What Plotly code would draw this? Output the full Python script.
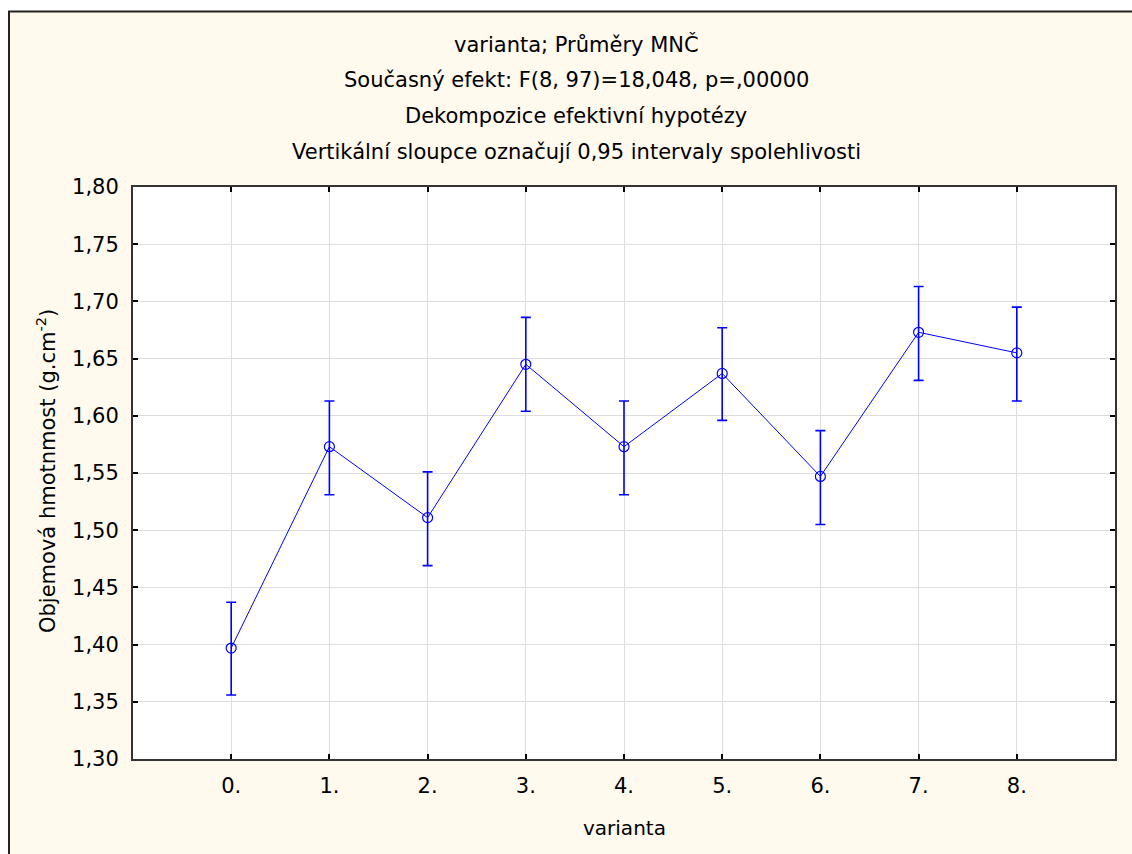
import plotly.graph_objects as go

categories = ["0.", "1.", "2.", "3.", "4.", "5.", "6.", "7.", "8."]
means = [1.397, 1.573, 1.511, 1.645, 1.573, 1.637, 1.547, 1.673, 1.655]
ci_upper = [1.437, 1.613, 1.551, 1.686, 1.613, 1.677, 1.587, 1.713, 1.695]
ci_lower = [1.356, 1.531, 1.469, 1.604, 1.531, 1.596, 1.505, 1.631, 1.613]
y_ticks = [1.30, 1.35, 1.40, 1.45, 1.50, 1.55, 1.60, 1.65, 1.70, 1.75, 1.80]
title_lines = [
    "varianta; Průměry MNČ",
    "Současný efekt: F(8, 97)=18,048, p=,00000",
    "Dekompozice efektivní hypotézy",
    "Vertikální sloupce označují 0,95 intervaly spolehlivosti",
]
x_title = "varianta"
y_title = "Objemová hmotnmost (g.cm<sup>-2</sup>)"

x_idx = list(range(len(categories)))
err_plus = [u - m for u, m in zip(ci_upper, means)]
err_minus = [m - l for m, l in zip(means, ci_lower)]

FONT = "DejaVu Sans, Verdana, sans-serif"
BLUE = "#0000FF"

fig = go.Figure()
fig.add_trace(go.Scatter(
    x=x_idx, y=means, mode="lines+markers",
    line=dict(color=BLUE, width=1),
    marker=dict(symbol="circle-open", size=10, color=BLUE, line=dict(width=1.2, color=BLUE)),
    error_y=dict(type="data", symmetric=False, array=err_plus, arrayminus=err_minus,
                 color=BLUE, thickness=1.6, width=5),
    showlegend=False,
))

W, H = 1132, 854
L, R, T, B = 133, 1115, 187, 759
pw, ph = R - L, B - T

def px(xp):
    return (xp - L) / pw

def py(yp):
    return (B - yp) / ph

annotations = []
for i, line in enumerate(title_lines):
    annotations.append(dict(text=line, x=px(576), y=py(44 + 36 * i),
                            xref="paper", yref="paper", showarrow=False,
                            xanchor="center", yanchor="middle",
                            font=dict(family=FONT, size=21, color="#000")))
annotations.append(dict(text=x_title, x=px(624), y=py(828), xref="paper", yref="paper",
                        showarrow=False, xanchor="center", yanchor="middle",
                        font=dict(family=FONT, size=20, color="#000")))
annotations.append(dict(text=y_title, x=px(46), y=py(471), xref="paper", yref="paper",
                        showarrow=False, xanchor="center", yanchor="middle", textangle=-90,
                        font=dict(family=FONT, size=21, color="#000")))

shapes = [
    dict(type="rect", xref="paper", yref="paper", x0=px(0), x1=px(1132), y0=py(11), y1=py(0),
         fillcolor="#FFFFFF", line=dict(width=0), layer="below"),
    dict(type="rect", xref="paper", yref="paper", x0=px(0), x1=px(8), y0=py(854), y1=py(0),
         fillcolor="#FFFFFF", line=dict(width=0), layer="below"),
    dict(type="line", xref="paper", yref="paper", x0=px(8), x1=px(1132), y0=py(11.5), y1=py(11.5),
         line=dict(color="#222", width=2)),
    dict(type="line", xref="paper", yref="paper", x0=px(9), x1=px(9), y0=py(11.5), y1=py(854),
         line=dict(color="#222", width=2)),
]

fig.update_layout(
    width=W, height=H,
    margin=dict(l=L, r=W - R, t=T, b=H - B),
    paper_bgcolor="#FFF9EE", plot_bgcolor="#FFFFFF",
    font=dict(family=FONT, size=21, color="#000"),
    annotations=annotations, shapes=shapes,
)
fig.update_xaxes(
    range=[-1, 9], tickmode="array", tickvals=x_idx, ticktext=categories,
    showgrid=True, gridcolor="#DDDDDD", gridwidth=1, zeroline=False,
    showline=True, linecolor="#333", linewidth=2, mirror="ticks",
    ticks="inside", ticklen=5, tickcolor="#000", tickwidth=1.5,
    ticklabelstandoff=7,
)
fig.update_yaxes(
    range=[1.30, 1.80], tickmode="array", tickvals=y_ticks,
    ticktext=[f"{v:.2f}".replace(".", ",") for v in y_ticks],
    showgrid=True, gridcolor="#DDDDDD", gridwidth=1, zeroline=False,
    showline=True, linecolor="#333", linewidth=2, mirror="ticks",
    ticks="inside", ticklen=5, tickcolor="#000", tickwidth=1.5,
    ticklabelstandoff=8,
)

fig.write_html(
    "out.html",
    config={"displayModeBar": False},
    post_script="document.body.style.margin='0';document.body.style.overflow='hidden';",
)
